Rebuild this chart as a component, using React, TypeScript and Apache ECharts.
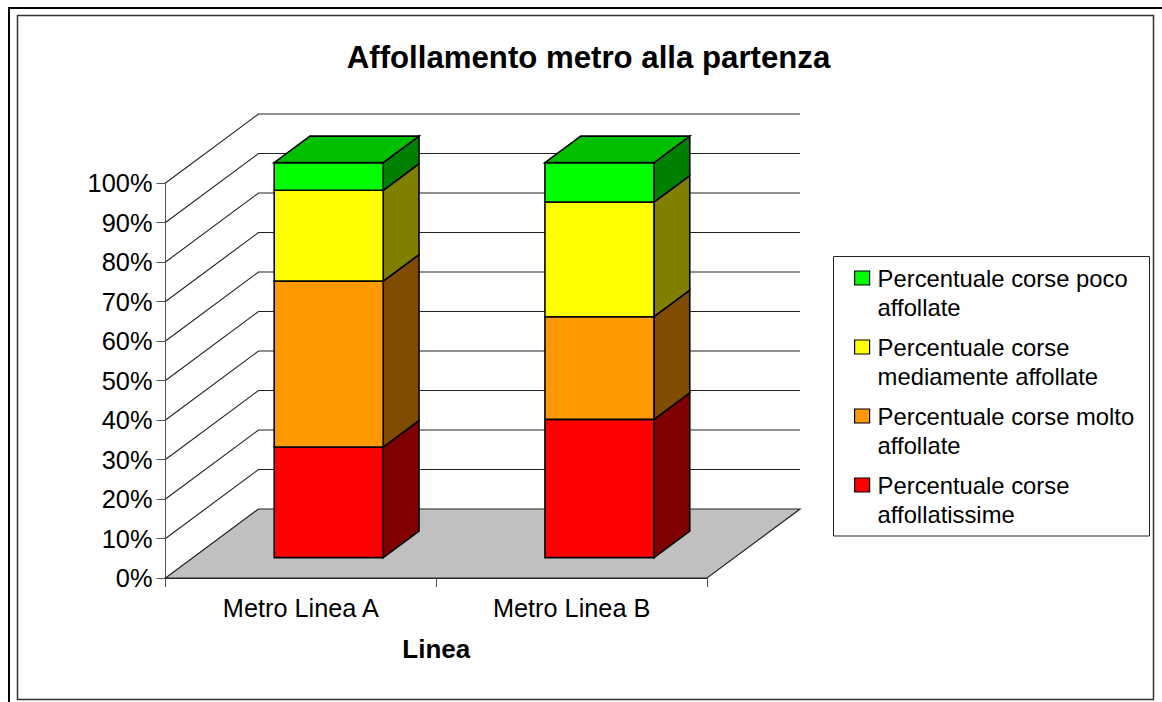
import React, { useEffect, useRef } from "react";
import * as echarts from "echarts";

const TITLE = "Affollamento metro alla partenza";
const X_NAME = "Linea";
const categories = ["Metro Linea A", "Metro Linea B"];
const yTicks = [0, 10, 20, 30, 40, 50, 60, 70, 80, 90, 100];

const nameRed = "Percentuale corse affollatissime";
const nameOrange = "Percentuale corse molto affollate";
const nameYellow = "Percentuale corse mediamente affollate";
const nameGreen = "Percentuale corse poco affollate";

const valuesRed = [28, 35];
const valuesOrange = [42, 26];
const valuesYellow = [23, 29];
const valuesGreen = [7, 10];

const wrapped: Record<string, string> = {
  [nameGreen]: "Percentuale corse poco\naffollate",
  [nameYellow]: "Percentuale corse\nmediamente affollate",
  [nameOrange]: "Percentuale corse molto\naffollate",
  [nameRed]: "Percentuale corse\naffollatissime",
};

const FONT = "'Liberation Sans', Arial, sans-serif";
const DEPTH_X = 93;
const DEPTH_Y = 69;
const BAR_FRACTION = 0.4026;
const BAR_DEPTH = 0.295; // where the bar's front face sits inside the floor depth
const BAR_THICK = 0.385; // how much of the floor depth the bar occupies

function stackSeries(
  name: string,
  values: number[],
  below: number[],
  front: string,
  side: string,
  top: string | null
) {
  return {
    type: "custom",
    name,
    itemStyle: { color: front, borderColor: "#000", borderWidth: 1 },
    encode: { x: 0, y: 2 },
    data: values.map((v, i) => [i, below[i], below[i] + v]),
    z: 5,
    renderItem: (_: any, api: any) => {
      const cat = api.value(0);
      const band = api.size([1, 0])[0];
      const w = band * BAR_FRACTION;
      const shiftX = DEPTH_X * BAR_DEPTH + 0.4;
      const shiftY = DEPTH_Y * BAR_DEPTH;
      const dx = DEPTH_X * BAR_THICK;
      const dy = DEPTH_Y * BAR_THICK;
      const lo = api.coord([cat, api.value(1)]);
      const hi = api.coord([cat, api.value(2)]);
      const x0 = lo[0] - w / 2 + shiftX;
      const x1 = x0 + w;
      const y0 = lo[1] - shiftY;
      const y1 = hi[1] - shiftY;
      const line = { stroke: "#000", lineWidth: 1.6, lineJoin: "miter" };
      const children: any[] = [
        {
          type: "polygon",
          shape: { points: [[x1, y0], [x1 + dx, y0 - dy], [x1 + dx, y1 - dy], [x1, y1]] },
          style: { fill: side, ...line },
        },
        {
          type: "rect",
          shape: { x: x0, y: y1, width: w, height: y0 - y1 },
          style: { fill: front, ...line },
        },
      ];
      if (top) {
        children.push({
          type: "polygon",
          shape: { points: [[x0, y1], [x0 + dx, y1 - dy], [x1 + dx, y1 - dy], [x1, y1]] },
          style: { fill: top, ...line },
        });
      }
      return { type: "group", children };
    },
  };
}

const cum1 = valuesRed;
const cum2 = valuesRed.map((v, i) => v + valuesOrange[i]);
const cum3 = cum2.map((v, i) => v + valuesYellow[i]);
const zeros = valuesRed.map(() => 0);

export default function App() {
  const ref = useRef<HTMLDivElement>(null);
  useEffect(() => {
    const chart = echarts.init(ref.current!, null, { renderer: "svg" });
    chart.setOption({
      animation: false,
      backgroundColor: "#fff",
      textStyle: { fontFamily: FONT },
      title: {
        text: TITLE,
        left: 583.5,
        textAlign: "center",
        top: 37,
        textStyle: { fontFamily: FONT, fontSize: 31.2, fontWeight: "bold", color: "#000" },
      },
      grid: { left: 165.5, top: 183, width: 541.5, height: 395 },
      xAxis: {
        type: "category",
        data: categories,
        name: X_NAME,
        nameLocation: "middle",
        nameGap: 58,
        nameTextStyle: { fontFamily: FONT, fontSize: 26, fontWeight: "bold", color: "#000" },
        axisLine: { lineStyle: { color: "#333", width: 1 } },
        axisTick: { show: true, length: 9, lineStyle: { color: "#555", width: 1 } },
        axisLabel: { fontFamily: FONT, fontSize: 25.3, color: "#000", margin: 17 },
        splitLine: { show: false },
      },
      yAxis: {
        type: "value",
        min: 0,
        max: 100,
        interval: 10,
        axisLine: { show: true, lineStyle: { color: "#555", width: 1 } },
        axisTick: { show: true, length: 9, lineStyle: { color: "#555", width: 1 } },
        axisLabel: {
          fontFamily: FONT,
          fontSize: 25.4,
          color: "#000",
          margin: 13,
          padding: [2, 0, 0, 0],
          formatter: (v: number) => `${v}%`,
        },
        splitLine: { show: false },
      },
      legend: {
        orient: "vertical",
        left: 854,
        top: 234.5,
        padding: 0,
        data: [nameGreen, nameYellow, nameOrange, nameRed],
        icon: "rect",
        itemWidth: 15,
        itemHeight: 14,
        itemGap: -18,
        selectedMode: false,
        formatter: (n: string) => "\n" + wrapped[n],
        textStyle: {
          fontFamily: FONT,
          fontSize: 23.8,
          lineHeight: 29,
          color: "#000",
          padding: [0, 0, 0, 3],
        },
        itemStyle: { borderColor: "#000", borderWidth: 1.2 },
        z: 8,
      },
      graphic: [
        {
          type: "rect",
          z: 0,
          shape: { x: 17.5, y: 15.5, width: 1136, height: 684 },
          style: { fill: "#fff", stroke: "#333", lineWidth: 1.5 },
        },
        {
          type: "polyline",
          z: 6,
          shape: { points: [[9, 702], [9, 8], [1162, 8]] },
          style: { fill: "none", stroke: "#000", lineWidth: 2 },
        },
        {
          type: "rect",
          z: 7,
          shape: { x: 833.5, y: 256.5, width: 316, height: 279.5 },
          style: { fill: "#fff", stroke: "#222", lineWidth: 1 },
        },
      ],
      series: [
        {
          type: "custom",
          z: 2,
          data: [[0, 0]],
          encode: { x: 0, y: 1 },
          silent: true,
          renderItem: (_: any, api: any) => {
            const band = api.size([1, 0])[0];
            const p = api.coord([0, 0]);
            const xl = p[0] - band / 2;
            const xr = xl + band * categories.length;
            const y = p[1];
            return {
              type: "polygon",
              shape: {
                points: [
                  [xl, y],
                  [xl + DEPTH_X, y - DEPTH_Y],
                  [xr + DEPTH_X, y - DEPTH_Y],
                  [xr, y],
                ],
              },
              style: { fill: "#C0C0C0", stroke: "#222", lineWidth: 1.2 },
            };
          },
        },
        {
          type: "custom",
          z: 2,
          silent: true,
          data: yTicks.slice(1).map((t) => [0, t]),
          encode: { x: 0, y: 1 },
          renderItem: (_: any, api: any) => {
            const band = api.size([1, 0])[0];
            const p = api.coord([0, api.value(1)]);
            const xl = p[0] - band / 2;
            const xr = xl + band * categories.length;
            const y = p[1];
            return {
              type: "polyline",
              shape: {
                points: [
                  [xl, y],
                  [xl + DEPTH_X, y - DEPTH_Y],
                  [xr + DEPTH_X, y - DEPTH_Y],
                ],
              },
              style: { fill: "none", stroke: "#222", lineWidth: 1.1 },
            };
          },
        },
        stackSeries(nameRed, valuesRed, zeros, "#FF0000", "#800000", null),
        stackSeries(nameOrange, valuesOrange, cum1, "#FF9900", "#804C00", null),
        stackSeries(nameYellow, valuesYellow, cum2, "#FFFF00", "#808000", null),
        stackSeries(nameGreen, valuesGreen, cum3, "#00FF00", "#008000", "#00C000"),
      ],
    });
    return () => chart.dispose();
  }, []);
  return (
    <div
      ref={ref}
      style={{ position: "fixed", left: 0, top: 0, width: 1162, height: 702 }}
    />
  );
}
